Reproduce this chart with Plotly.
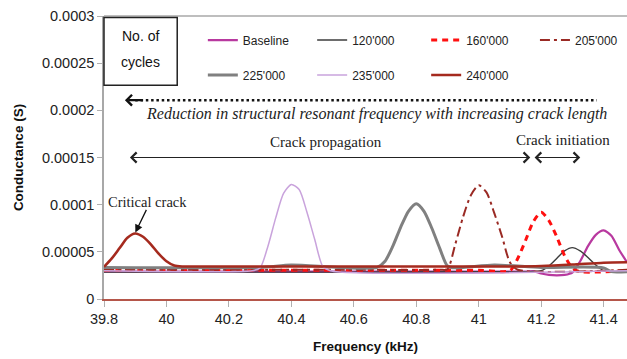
import plotly.graph_objects as go

# ---------------- data (conductance in units of 1e-5 S, frequency in kHz) ----------------
X_TICKS = [39.8, 40.0, 40.2, 40.4, 40.6, 40.8, 41.0, 41.2, 41.4]
X_TICK_TEXT = ["39.8", "40", "40.2", "40.4", "40.6", "40.8", "41", "41.2", "41.4"]
Y_TICKS = [0, 0.00005, 0.0001, 0.00015, 0.0002, 0.00025, 0.0003]
Y_TICK_TEXT = ["0", "0.00005", "0.0001", "0.00015", "0.0002", "0.00025", "0.0003"]

baseline_f = [39.8, 40.5, 41.0, 41.15, 41.175, 41.2, 41.225, 41.25, 41.275, 41.3, 41.325, 41.35, 41.375, 41.4, 41.425, 41.45, 41.475]
baseline_g = [2.9, 2.9, 2.9, 2.9, 2.95, 2.7, 2.55, 2.5, 2.55, 2.8, 4.0, 5.6, 6.8, 7.27, 6.7, 5.2, 3.9]

c120_f = [39.8, 40.5, 41.0, 41.2, 41.225, 41.25, 41.275, 41.3, 41.325, 41.35, 41.375, 41.4, 41.425, 41.475]
c120_g = [2.85, 2.85, 2.9, 3.0, 3.5, 4.3, 5.1, 5.45, 5.1, 4.4, 3.6, 3.0, 2.85, 2.9]

c160_f = [39.8, 40.5, 41.0, 41.1, 41.125, 41.15, 41.175, 41.2, 41.225, 41.25, 41.275, 41.3, 41.325, 41.475]
c160_g = [3.05, 3.05, 3.05, 3.0, 4.3, 6.2, 8.2, 9.2, 8.3, 6.6, 4.6, 3.3, 2.9, 3.0]

c205_f = [39.8, 40.5, 40.875, 40.9, 40.925, 40.95, 40.975, 41.0, 41.025, 41.05, 41.075, 41.1, 41.125, 41.475]
c205_g = [3.1, 3.1, 3.1, 3.15, 5.8, 8.7, 11.0, 12.05, 11.3, 9.1, 6.6, 3.9, 3.1, 3.1]

c225_f = [39.8, 40.3, 40.4, 40.55, 40.675, 40.7, 40.725, 40.75, 40.775, 40.8, 40.825, 40.85, 40.875, 40.9, 40.925, 41.05, 41.2, 41.4, 41.425, 41.475]
c225_g = [3.35, 3.35, 3.6, 3.35, 3.35, 4.0, 5.6, 7.6, 9.3, 10.1, 9.3, 7.5, 5.4, 3.5, 3.3, 3.6, 3.35, 3.3, 2.9, 2.9]

c235_f = [39.8, 40.275, 40.3, 40.325, 40.35, 40.375, 40.4, 40.425, 40.45, 40.475, 40.5, 40.525, 41.475]
c235_g = [3.0, 3.0, 3.3, 5.6, 8.6, 11.2, 12.15, 11.6, 9.2, 6.3, 3.5, 3.0, 3.0]

c240_f = [39.8, 39.825, 39.85, 39.875, 39.9, 39.925, 39.95, 39.975, 40.0, 40.025, 40.05, 40.1, 40.6, 41.1, 41.2, 41.3, 41.4, 41.475]
c240_g = [3.4, 4.3, 5.4, 6.5, 6.95, 6.6, 5.8, 4.8, 4.0, 3.55, 3.45, 3.45, 3.45, 3.45, 3.5, 3.65, 3.85, 3.9]

SERIES_NAMES = ["Baseline", "120'000", "160'000", "205'000", "225'000", "235'000", "240'000"]
SERIES_F = [baseline_f, c120_f, c160_f, c205_f, c225_f, c235_f, c240_f]
SERIES_G = [baseline_g, c120_g, c160_g, c205_g, c225_g, c235_g, c240_g]

# ---------------- styles ----------------
STYLES = [
    dict(color="#b8399f", width=2.2, dash="solid"),
    dict(color="#3c3c3c", width=1.4, dash="solid"),
    dict(color="#ff1010", width=3.0, dash="6px,5px"),
    dict(color="#9a2a24", width=2.0, dash="10px,4px,3px,4px"),
    dict(color="#808080", width=3.0, dash="solid"),
    dict(color="#c9a3dc", width=1.5, dash="solid"),
    dict(color="#a52a1e", width=2.6, dash="solid"),
]
# legend slot positions (paper fractions): one single-entry legend per slot
LEGEND_X = [0.189, 0.398, 0.616, 0.824, 0.189, 0.398, 0.616]
LEGEND_Y = [0.915, 0.915, 0.915, 0.915, 0.7915, 0.7915, 0.7915]

SANS = "Liberation Sans, Arial, sans-serif"
SERIF = "Liberation Serif, Times New Roman, serif"

fig = go.Figure()
for i, (name, f, g, st) in enumerate(zip(SERIES_NAMES, SERIES_F, SERIES_G, STYLES)):
    lg = "legend" if i == 0 else f"legend{i + 1}"
    fig.add_trace(go.Scatter(
        x=f, y=[v * 1e-5 for v in g], mode="lines", name=name, legend=lg,
        line=dict(color=st["color"], width=st["width"], dash=st["dash"], shape="spline", smoothing=0.7),
        hoverinfo="skip",
    ))

ann_font = dict(family=SERIF, size=15, color="#222222")
annotations = [
    # No. of cycles box text
    dict(xref="paper", yref="paper", x=0.07, y=0.929, text="No. of", showarrow=False,
         xanchor="center", yanchor="middle", font=dict(family=SANS, size=14, color="#111111")),
    dict(xref="paper", yref="paper", x=0.07, y=0.837, text="cycles", showarrow=False,
         xanchor="center", yanchor="middle", font=dict(family=SANS, size=14, color="#111111")),
    dict(x=40.674, y=0.0001957, text="Reduction in structural resonant frequency with increasing crack length",
         showarrow=False, font=dict(family=SERIF, size=16, color="#222222", style="italic")),
    dict(x=39.867, y=0.0002108, ax=39.93, ay=0.0002108, axref="x", ayref="y", text="", showarrow=True,
         arrowhead=4, arrowsize=0.95, arrowwidth=2.2, arrowcolor="#111111"),
    dict(x=40.51, y=0.0001665, text="Crack propagation", showarrow=False, font=ann_font),
    dict(x=39.883, y=0.00015, ax=41.170, ay=0.00015, axref="x", ayref="y", text="", showarrow=True,
         arrowhead=4, arrowside="end+start", arrowsize=1.8, arrowwidth=1.1, arrowcolor="#222222"),
    dict(x=41.27, y=0.0001685, text="Crack initiation", showarrow=False, font=ann_font),
    dict(x=41.179, y=0.00015, ax=41.330, ay=0.00015, axref="x", ayref="y", text="", showarrow=True,
         arrowhead=4, arrowside="end+start", arrowsize=1.8, arrowwidth=1.1, arrowcolor="#222222"),
    dict(x=39.94, y=0.0001027, text="Critical crack", showarrow=False,
         font=dict(family=SERIF, size=14.5, color="#222222")),
    dict(x=39.899, y=0.0000695, ax=39.938, ay=0.0000961, axref="x", ayref="y", text="", showarrow=True,
         arrowhead=2, arrowsize=1.2, arrowwidth=1.3, arrowcolor="#111111", standoff=1),
]

shapes = [
    # top border
    dict(type="line", xref="paper", yref="paper", x0=0, x1=1, y0=1, y1=1, line=dict(color="#a8a8a8", width=1.5)),
    # No. of cycles box
    dict(type="rect", xref="paper", yref="paper", x0=0.0, x1=0.14, y0=0.755, y1=0.995,
         line=dict(color="#222222", width=1.5), fillcolor="white"),
    # dotted reduction line
    dict(type="line", x0=39.9, x1=41.378, y0=0.0002108, y1=0.0002108,
         line=dict(color="#111111", width=2.5, dash="2.5px,2.8px")),
]

legends = {}
for i, (lx, ly) in enumerate(zip(LEGEND_X, LEGEND_Y)):
    key = "legend" if i == 0 else f"legend{i + 1}"
    legends[key] = dict(x=lx, y=ly, xanchor="left", yanchor="middle", orientation="h",
                        bgcolor="rgba(0,0,0,0)", borderwidth=0,
                        font=dict(family=SANS, size=12, color="#222222"), itemclick=False)

fig.update_layout(
    width=627, height=359,
    margin=dict(l=104, r=0, t=16, b=60),
    plot_bgcolor="white", paper_bgcolor="white",
    font=dict(family=SANS, size=12, color="#222222"),
    xaxis=dict(range=[39.8, 41.475], tickvals=X_TICKS, ticktext=X_TICK_TEXT,
               showgrid=False, zeroline=False, showline=True, linecolor="#b5564a", linewidth=1.5,
               ticks="outside", ticklen=6, tickcolor="#b0b0b0", tickwidth=1,
               tickfont=dict(size=14.5, color="#222222"),
               title=dict(text="<b>Frequency (kHz)</b>", font=dict(size=13.5, color="#111111"), standoff=15)),
    yaxis=dict(range=[0, 0.0003], tickvals=Y_TICKS, ticktext=Y_TICK_TEXT,
               showgrid=False, zeroline=False, showline=True, linecolor="#a8a8a8", linewidth=1.5,
               ticks="outside", ticklen=5, tickcolor="#b0b0b0", tickwidth=1,
               tickfont=dict(size=14.5, color="#222222"),
               title=dict(text="<b>Conductance (S)</b>", font=dict(size=13.5, color="#111111"), standoff=15)),
    annotations=annotations,
    shapes=shapes,
    showlegend=True,
    **legends,
)

fig.write_html("out.html")
